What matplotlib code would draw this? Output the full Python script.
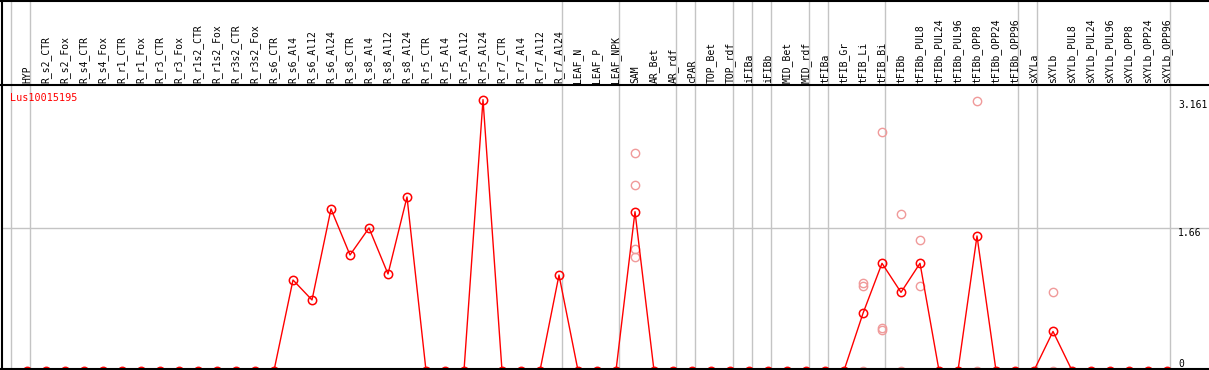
import matplotlib
matplotlib.use("Agg")
import matplotlib.pyplot as plt
from matplotlib.lines import Line2D
from matplotlib.transforms import blended_transform_factory

# ---- data ----
categories = [
    "HYP", "R_s2_CTR", "R_s2_Fox", "R_s4_CTR", "R_s4_Fox", "R_r1_CTR", "R_r1_Fox",
    "R_r3_CTR", "R_r3_Fox", "R_r1s2_CTR", "R_r1s2_Fox", "R_r3s2_CTR", "R_r3s2_Fox",
    "R_s6_CTR", "R_s6_Al4", "R_s6_Al12", "R_s6_Al24", "R_s8_CTR", "R_s8_Al4",
    "R_s8_Al12", "R_s8_Al24", "R_r5_CTR", "R_r5_Al4", "R_r5_Al12", "R_r5_Al24",
    "R_r7_CTR", "R_r7_Al4", "R_r7_Al12", "R_r7_Al24", "LEAF_N", "LEAF_P", "LEAF_NPK",
    "SAM", "AR_Bet", "AR_rdf", "cPAR", "TOP_Bet", "TOP_rdf", "iFIBa", "iFIBb",
    "MID_Bet", "MID_rdf", "tFIBa", "tFIB_Gr", "tFIB_Li", "tFIB_Bi", "tFIBb",
    "tFIBb_PUL8", "tFIBb_PUL24", "tFIBb_PUL96", "tFIBb_OPP8", "tFIBb_OPP24",
    "tFIBb_OPP96", "sXYLa", "sXYLb", "sXYLb_PUL8", "sXYLb_PUL24", "sXYLb_PUL96",
    "sXYLb_OPP8", "sXYLb_OPP24", "sXYLb_OPP96",
]
means = [
    0, 0, 0, 0, 0, 0, 0, 0, 0, 0, 0, 0, 0, 0,
    1.056, 0.823, 1.885, 1.348, 1.663, 1.126, 2.025,
    0, 0, 0, 3.161, 0, 0, 0, 1.114,
    0, 0, 0, 1.853, 0, 0, 0, 0, 0, 0, 0, 0, 0, 0,
    0, 0.667, 1.251, 0.912, 1.251, 0, 0, 1.57, 0, 0,
    0, 0.456, 0, 0, 0, 0, 0, 0,
]
rep_labels = ["SAM", "SAM", "SAM", "SAM",
              "tFIB_Li", "tFIB_Li", "tFIB_Li",
              "tFIB_Bi", "tFIB_Bi", "tFIB_Bi",
              "tFIBb", "tFIBb",
              "tFIBb_PUL8", "tFIBb_PUL8",
              "tFIBb_OPP8", "tFIBb_OPP8",
              "sXYLb", "sXYLb"]
rep_values = [2.534, 2.165, 1.418, 1.321,
              1.018, 0.986, 0.0,
              2.779, 0.50, 0.47,
              1.823, 0.0,
              1.519, 0.986,
              3.141, 0.0,
              0.912, 0.0]
group_sizes = [1, 28, 3, 3, 1, 2, 1, 1, 2, 1, 3, 7, 1, 7]
tick_values = [3.161, 1.66, 0]
tick_labels = ["3.161", "1.66", "0"]
gene = "Lus10015195"

# ---- layout (pixels) ----
W, H = 1209, 370
fig = plt.figure(figsize=(W / 100, H / 100), dpi=100)
fig.patch.set_facecolor("white")

def fy(py):
    return 1 - py / H

ax_left, ax_right, ax_top, ax_bot = 1, 1209, 85, 369
ax = fig.add_axes([ax_left / W, fy(ax_bot), (ax_right - ax_left) / W, (ax_bot - ax_top) / H])
ax.set_axis_off()

x0, dx = 27, 19  # pixel of first category, spacing
ax.set_xlim((ax_left - x0) / dx, (ax_right - x0) / dx)
y0, s = 370.5, 85.7
ax.set_ylim((y0 - ax_bot) / s, (y0 - ax_top) / s)

font = "DejaVu Sans Mono"
fs = 7
xs = list(range(len(categories)))
idx = {c: i for i, c in enumerate(categories)}

# vertical grid lines (full height incl. header)
bt = blended_transform_factory(ax.transData, fig.transFigure)
bounds = [-1]
acc = 0
for g in group_sizes:
    acc += g
    bounds.append(acc - 1)
for b in bounds:
    fig.add_artist(Line2D([b + 0.17, b + 0.17], [fy(ax_bot), 1], transform=bt,
                          color="#c4c4c4", lw=1.0, zorder=0))

# horizontal grid line at 1.66
ax.axhline(1.66, color="#c4c4c4", lw=1.0, zorder=0)

# replicate points
ax.plot([idx[c] for c in rep_labels], rep_values, linestyle="none", marker="o",
        markersize=6, markerfacecolor="none", markeredgecolor="#f09a9a",
        markeredgewidth=1.0, clip_on=False, zorder=2)

# mean line
ax.plot(xs, means, color="red", lw=1.0, marker="o", markersize=6,
        markerfacecolor="none", markeredgecolor="red", markeredgewidth=1.1,
        clip_on=False, zorder=3)

# header labels
for i, c in enumerate(categories):
    fig.text(i, fy(83), c, transform=bt, rotation=90, ha="center", va="bottom",
             fontsize=fs, family=font, color="black")

# gene title
fig.text(10 / W, fy(98), gene, ha="left", va="center", fontsize=fs + 0.3,
         family=font, color="red")

# right-side value labels
tt = blended_transform_factory(fig.transFigure, ax.transData)
for v, lab in zip(tick_values, tick_labels):
    if v == 0:
        ax.text(1178 / W, v + 0.02, lab, transform=tt, ha="left", va="bottom",
                fontsize=fs, family=font, color="black", clip_on=False)
    else:
        ax.text(1178 / W, v, lab, transform=tt, ha="left", va="top",
                fontsize=fs, family=font, color="black", clip_on=False)

# frame lines
for (xa, xb, ya, yb) in [(0, 1, fy(0.5), fy(0.5)), (0, 1, fy(85), fy(85)),
                         (0, 1, fy(369), fy(369)), (1.5 / W, 1.5 / W, fy(369), fy(0))]:
    fig.add_artist(Line2D([xa, xb], [ya, yb], transform=fig.transFigure,
                          color="black", lw=1.5, zorder=5))

fig.savefig("out.png", dpi=100, facecolor="white")
